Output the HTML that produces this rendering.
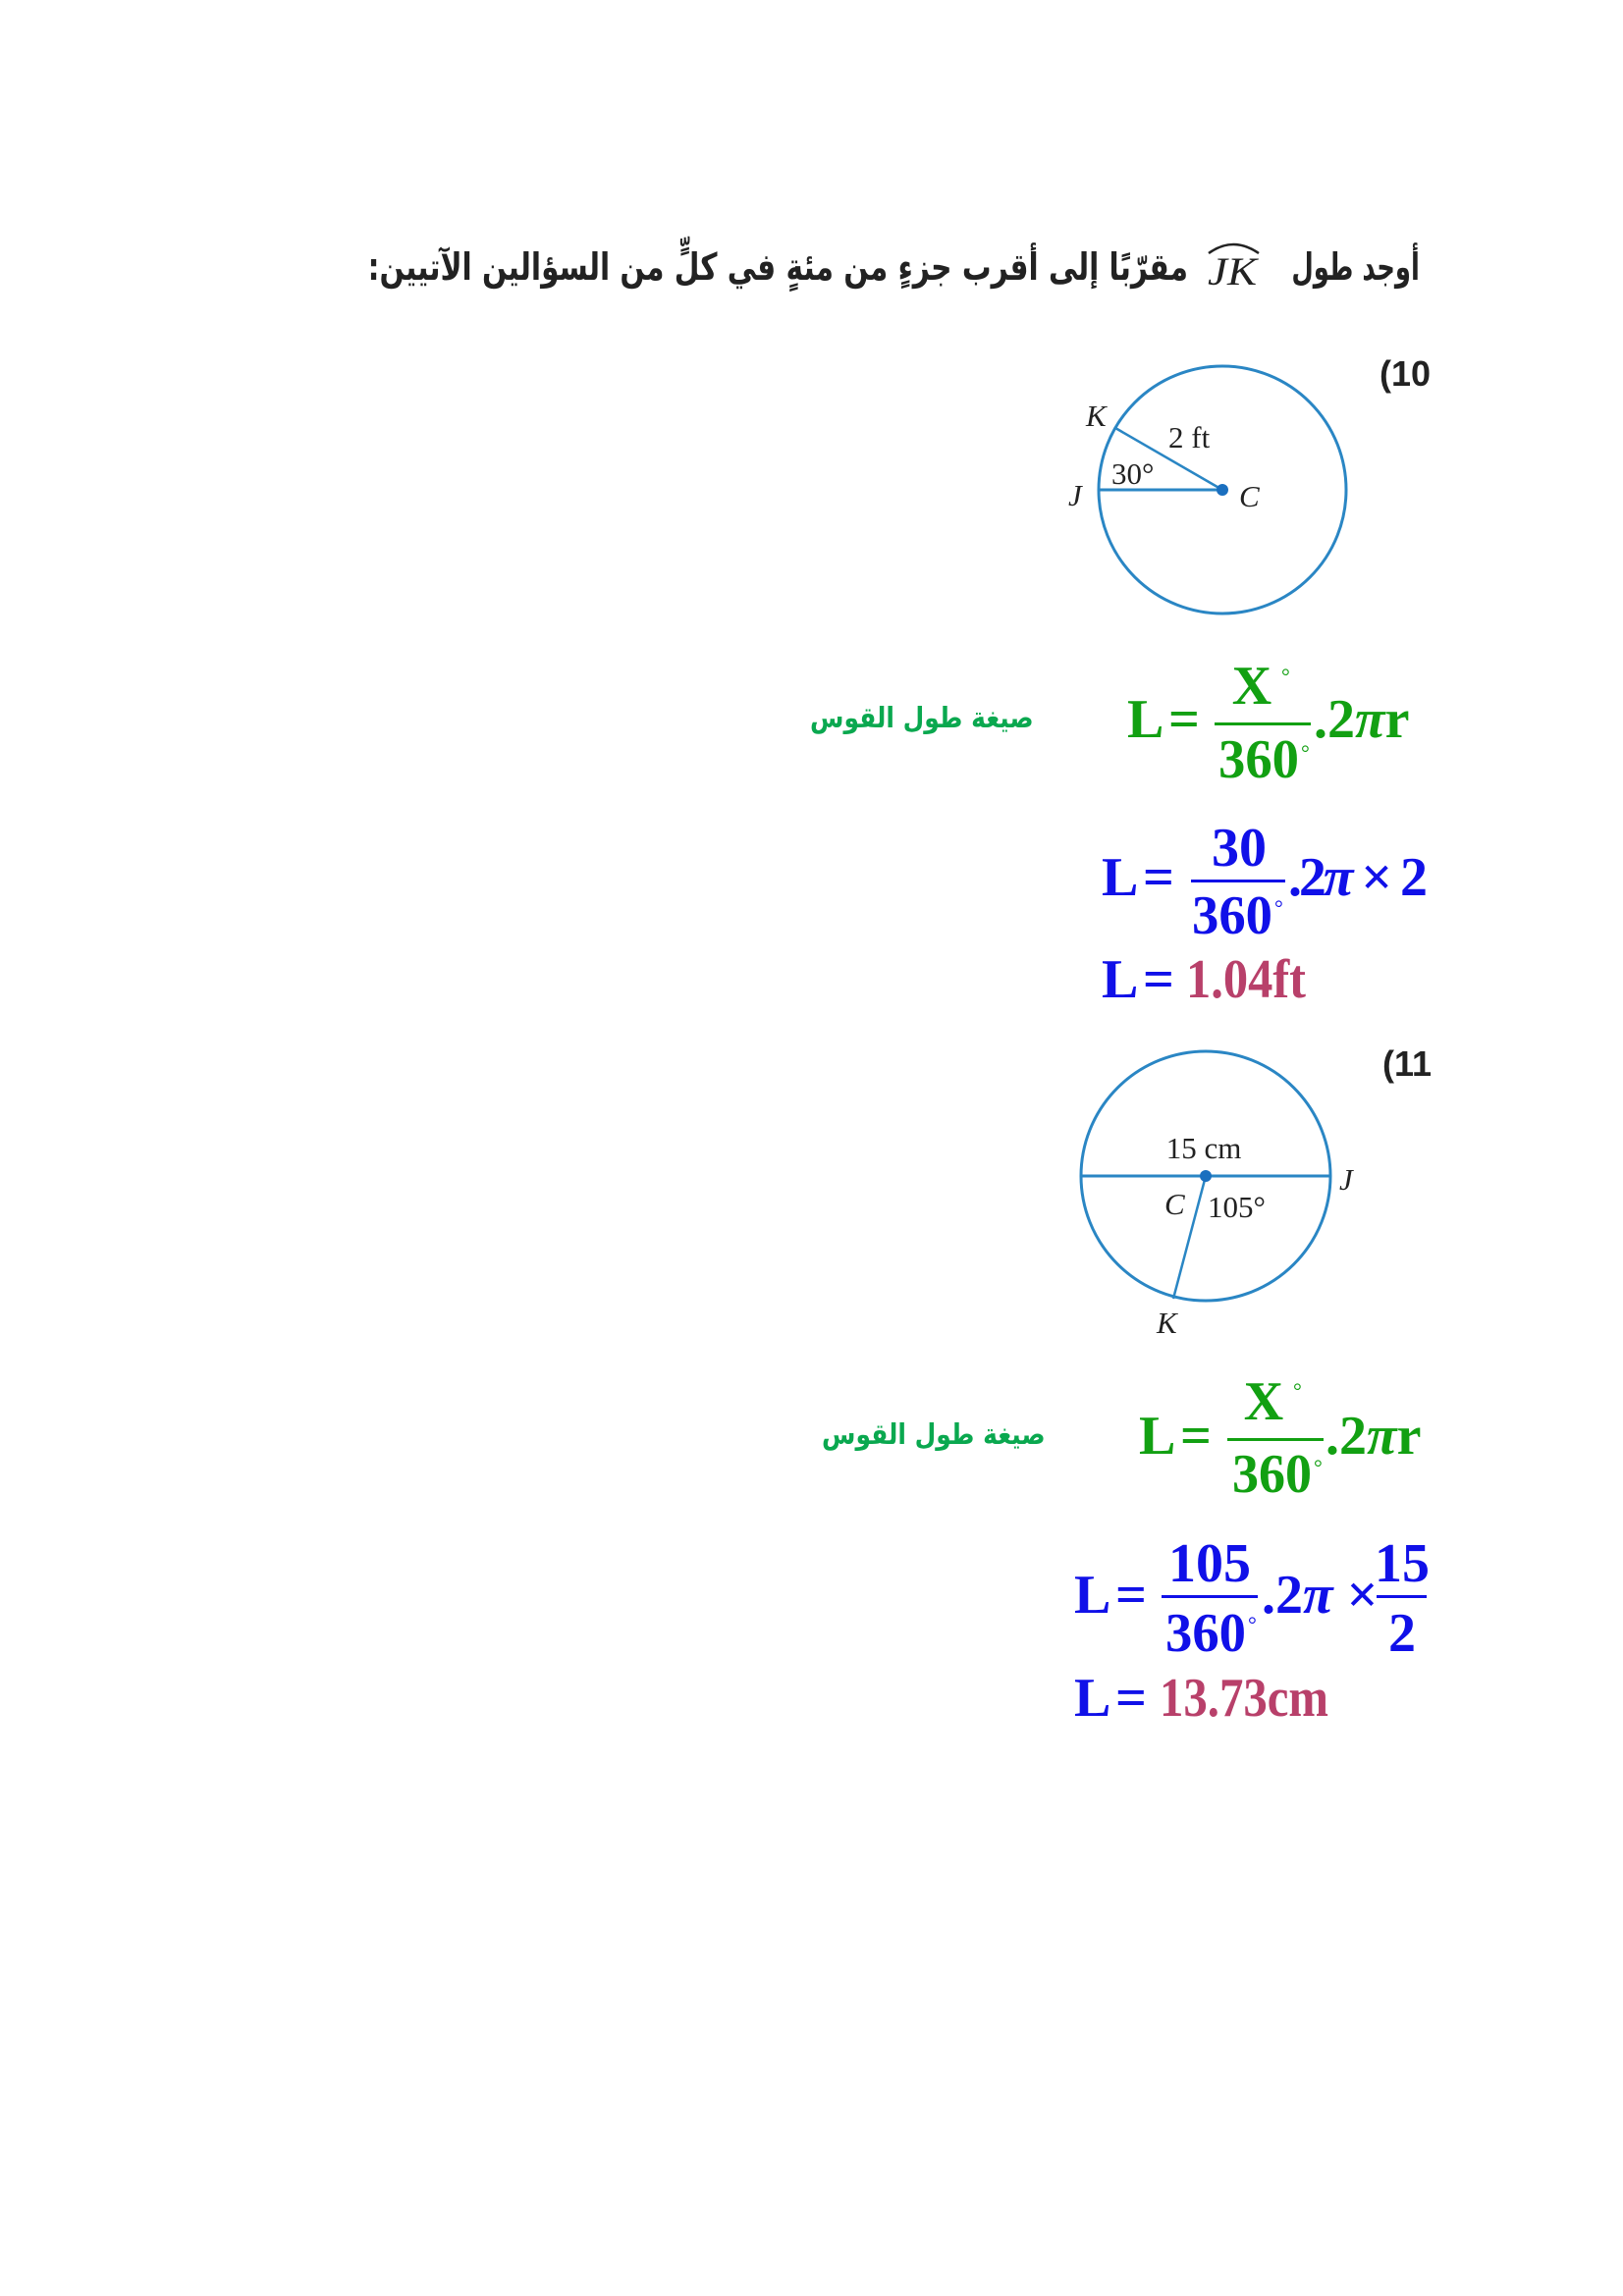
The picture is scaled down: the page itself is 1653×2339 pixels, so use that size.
<!DOCTYPE html>
<html><head><meta charset="utf-8"><style>
html,body{margin:0;padding:0;background:#fff}
svg{display:block;position:absolute;left:0;top:0}
.ar{position:absolute;direction:rtl;white-space:nowrap;font-family:"DejaVu Sans",sans-serif;font-weight:bold;transform-origin:100% 50%}
</style></head>
<body>
<div class="ar" style="right:207px;top:250px;font-size:38px;color:#222;transform:scaleX(0.68)">أوجد طول</div>
<div class="ar" style="right:443px;top:250px;font-size:38px;color:#222;transform:scaleX(0.78)">مقرّبًا إلى أقرب جزءٍ من مئةٍ في كلٍّ من السؤالين الآتيين:</div>
<div class="ar" style="right:600px;top:714px;font-size:29px;color:#0aa84f;transform:scaleX(0.86)">صيغة طول القوس</div>
<div class="ar" style="right:588px;top:1444px;font-size:29px;color:#0aa84f;transform:scaleX(0.86)">صيغة طول القوس</div>
<svg width="1653" height="2339" viewBox="0 0 1653 2339" xmlns="http://www.w3.org/2000/svg">
<text x="1230" y="290" font-family="'Liberation Serif', serif" font-style="italic" font-size="40" fill="#222" textLength="50" lengthAdjust="spacingAndGlyphs">JK</text>
<path d="M1231 258 Q1256 240 1282 258" fill="none" stroke="#222" stroke-width="2.5"/>

<text x="1405" y="393" font-family="'Liberation Sans', sans-serif" font-weight="bold" font-size="36" fill="#222">(10</text>
<circle cx="1245" cy="499" r="126" fill="none" stroke="#2a86c4" stroke-width="3"/>
<line x1="1120" y1="499" x2="1245" y2="499" stroke="#2a86c4" stroke-width="3"/>
<line x1="1136" y1="436" x2="1245" y2="499" stroke="#2a86c4" stroke-width="2.5"/>
<circle cx="1245" cy="499" r="6" fill="#1a6fbf"/>
<g font-family="'Liberation Serif', serif" font-size="31" fill="#222">
<text x="1106" y="434" font-style="italic">K</text>
<text x="1190" y="456">2 ft</text>
<text x="1132" y="493">30°</text>
<text x="1088" y="515" font-style="italic">J</text>
<text x="1262" y="516" font-style="italic">C</text>
</g>

<g font-family="'Liberation Serif', serif" font-weight="bold" font-size="56" fill="#12a012">
<text x="1148" y="751">L</text>
<text x="1190" y="751">=</text>
<rect x="1237" y="736" width="98" height="3"/>
<text x="1275" y="717" text-anchor="middle">X</text>
<text x="1241" y="792" textLength="82" lengthAdjust="spacingAndGlyphs">360</text>
<text x="1338" y="751">.2<tspan font-style="italic">π</tspan>r</text>
</g>
<g font-family="'Liberation Serif', serif" font-size="22" fill="#12a012">
<text x="1305" y="696">°</text><text x="1325" y="774">°</text>
</g>

<g font-family="'Liberation Serif', serif" font-weight="bold" font-size="56" fill="#1010e8">
<text x="1122" y="912">L</text>
<text x="1164" y="912">=</text>
<rect x="1213" y="896" width="96" height="3"/>
<text x="1262" y="882" text-anchor="middle">30</text>
<text x="1214" y="951" textLength="82" lengthAdjust="spacingAndGlyphs">360</text>
<text x="1312" y="912" textLength="142" lengthAdjust="spacing">.2<tspan font-style="italic">π</tspan> × 2</text>
<text x="1122" y="1016">L</text>
<text x="1164" y="1016">=</text>
</g>
<text x="1298" y="932" font-family="'Liberation Serif', serif" font-size="22" fill="#1010e8">°</text>
<text x="1208" y="1016" font-family="'Liberation Serif', serif" font-weight="bold" font-size="56" fill="#b8406a" textLength="122" lengthAdjust="spacingAndGlyphs">1.04ft</text>

<text x="1408" y="1096" font-family="'Liberation Sans', sans-serif" font-weight="bold" font-size="36" fill="#222">(11</text>
<circle cx="1228" cy="1198" r="127" fill="none" stroke="#2a86c4" stroke-width="3"/>
<line x1="1101" y1="1198" x2="1355" y2="1198" stroke="#2a86c4" stroke-width="3"/>
<line x1="1228" y1="1198" x2="1195" y2="1323" stroke="#2a86c4" stroke-width="2.5"/>
<circle cx="1228" cy="1198" r="6" fill="#1a6fbf"/>
<g font-family="'Liberation Serif', serif" font-size="31" fill="#222">
<text x="1226" y="1180" text-anchor="middle">15 cm</text>
<text x="1186" y="1237" font-style="italic">C</text>
<text x="1230" y="1240">105°</text>
<text x="1364" y="1212" font-style="italic">J</text>
<text x="1178" y="1358" font-style="italic">K</text>
</g>

<g font-family="'Liberation Serif', serif" font-weight="bold" font-size="56" fill="#12a012">
<text x="1160" y="1481">L</text>
<text x="1202" y="1481">=</text>
<rect x="1250" y="1465" width="98" height="3"/>
<text x="1287" y="1446" text-anchor="middle">X</text>
<text x="1255" y="1520" textLength="81" lengthAdjust="spacingAndGlyphs">360</text>
<text x="1350" y="1481">.2<tspan font-style="italic">π</tspan>r</text>
</g>
<g font-family="'Liberation Serif', serif" font-size="22" fill="#12a012">
<text x="1317" y="1424">°</text><text x="1338" y="1502">°</text>
</g>

<g font-family="'Liberation Serif', serif" font-weight="bold" font-size="56" fill="#1010e8">
<text x="1094" y="1643">L</text>
<text x="1136" y="1643">=</text>
<rect x="1183" y="1625" width="98" height="3"/>
<text x="1232" y="1611" text-anchor="middle">105</text>
<text x="1187" y="1682" textLength="82" lengthAdjust="spacingAndGlyphs">360</text>
<text x="1285" y="1643">.2<tspan font-style="italic">π</tspan> ×</text>
<rect x="1402" y="1625" width="51" height="3"/>
<text x="1428" y="1611" text-anchor="middle">15</text>
<text x="1428" y="1682" text-anchor="middle">2</text>
<text x="1094" y="1748">L</text>
<text x="1136" y="1748">=</text>
</g>
<text x="1271" y="1662" font-family="'Liberation Serif', serif" font-size="22" fill="#1010e8">°</text>
<text x="1181" y="1748" font-family="'Liberation Serif', serif" font-weight="bold" font-size="56" fill="#b8406a" textLength="172" lengthAdjust="spacingAndGlyphs">13.73cm</text>
</svg>
</body></html>
